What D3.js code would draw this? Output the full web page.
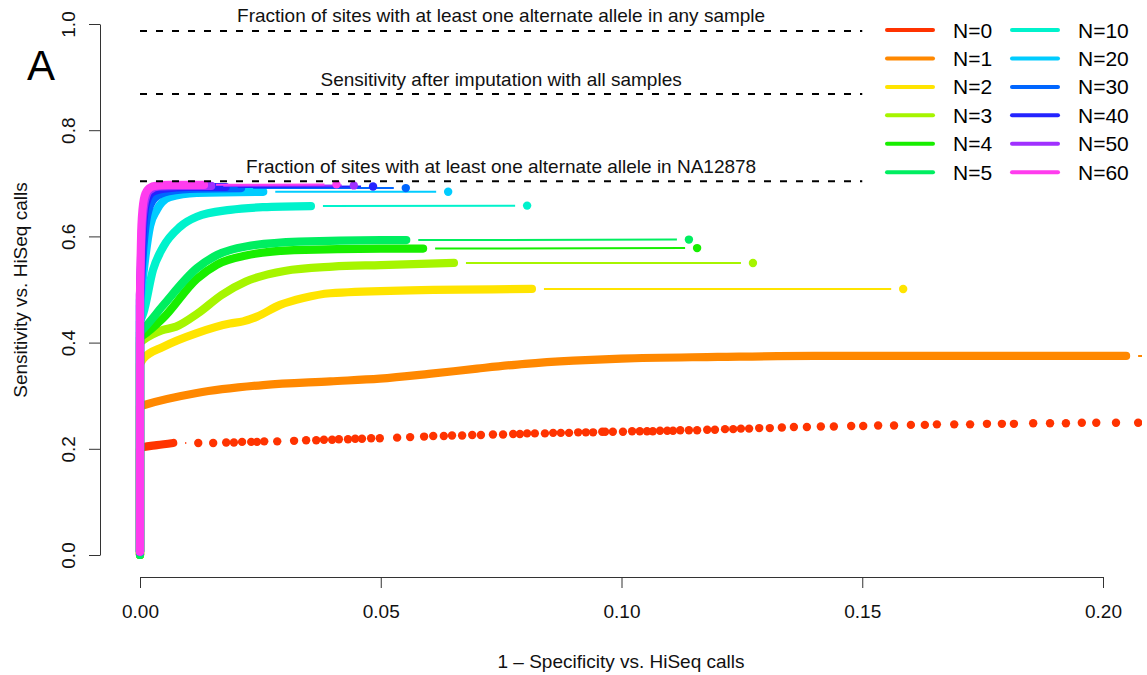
<!DOCTYPE html>
<html>
<head>
<meta charset="utf-8">
<script src="https://cdn.jsdelivr.net/npm/d3@7"></script>
<style>
	body { margin: 0; background: #fff; }
	svg { display: block; font-family: "Liberation Sans", Arial, sans-serif; }
</style>
</head>
<body>
<svg id="chart" width="1147" height="675"></svg>
<script>
// series labels and colours (legend order)
const seriesNames = ["N=0", "N=1", "N=2", "N=3", "N=4", "N=5", "N=10", "N=20", "N=30", "N=40", "N=50", "N=60"];
const seriesColors = ["#FF3300", "#FF8800", "#FFE400", "#A6F500", "#18EE00", "#00EE60", "#00F2CC", "#00CCFF", "#0066FF", "#2424FF", "#A030FF", "#FF3CEE"];

// dense (thick) part of each curve: [1 - specificity, sensitivity]
const denseN0 = [[0, 0], [0, 0.2], [0.0007, 0.203], [0.0035, 0.207], [0.0069, 0.211]];
const denseN1 = [[0, 0], [0, 0.28], [0.0007, 0.282], [0.0118, 0.305], [0.0256, 0.32], [0.0395, 0.327], [0.0498, 0.332], [0.06, 0.341], [0.07, 0.351], [0.08, 0.36], [0.09, 0.366], [0.1, 0.37], [0.12, 0.373], [0.14, 0.375], [0.17, 0.375], [0.2048, 0.375]];
const denseN2 = [[0, 0], [0, 0.36], [0.0007, 0.37], [0.0048, 0.392], [0.0118, 0.418], [0.0187, 0.436], [0.0214, 0.44], [0.0243, 0.449], [0.0291, 0.471], [0.0339, 0.484], [0.0395, 0.493], [0.054, 0.498], [0.0814, 0.501]];
const denseN3 = [[0, 0], [0, 0.4], [0.0007, 0.405], [0.0045, 0.423], [0.0075, 0.43], [0.012, 0.455], [0.017, 0.49], [0.022, 0.515], [0.03, 0.535], [0.04, 0.543], [0.05, 0.546], [0.0652, 0.55]];
const denseN4 = [[0, 0], [0, 0.41], [0.0007, 0.414], [0.0048, 0.446], [0.0118, 0.52], [0.016, 0.547], [0.022, 0.564], [0.032, 0.574], [0.05, 0.577], [0.0588, 0.577]];
const denseN5 = [[0, 0], [0, 0.42], [0.0007, 0.426], [0.0048, 0.47], [0.0118, 0.54], [0.016, 0.565], [0.022, 0.581], [0.033, 0.59], [0.05, 0.593], [0.0553, 0.593]];
const denseN10 = [[0, 0.006], [0, 0.44], [0.0007, 0.456], [0.0027, 0.537], [0.0048, 0.58], [0.0083, 0.618], [0.0118, 0.637], [0.0187, 0.65], [0.0255, 0.655], [0.0355, 0.657]];
const denseN20 = [[0, 0.006], [0, 0.47], [0.0007, 0.53], [0.0021, 0.62], [0.0035, 0.65], [0.0062, 0.674], [0.0118, 0.682], [0.0256, 0.684]];
const denseN30 = [[0, 0.006], [0, 0.48], [0.0007, 0.58], [0.0015, 0.64], [0.003, 0.672], [0.006, 0.685], [0.012, 0.69], [0.021, 0.691]];
const denseN40 = [[0, 0.006], [0, 0.49], [0.0005, 0.6], [0.0012, 0.66], [0.0025, 0.683], [0.005, 0.69], [0.01, 0.693], [0.0178, 0.693]];
const denseN50 = [[0, 0.006], [0, 0.49], [0.0004, 0.61], [0.001, 0.665], [0.002, 0.687], [0.004, 0.694], [0.008, 0.695], [0.0148, 0.695]];
const denseN60 = [[0, 0.006], [0, 0.49], [0.0003, 0.62], [0.0008, 0.67], [0.0016, 0.688], [0.003, 0.695], [0.006, 0.697], [0.0133, 0.697]];

// sparse points after the dense part (drawn as dots joined by gapped lines)
const dotsN0 = [
	[0.0121, 0.211], [0.0152, 0.211], [0.0179, 0.212], [0.0195, 0.212], [0.0212, 0.213], [0.0231, 0.213], [0.0243, 0.213], [0.0258, 0.214],
	[0.0285, 0.214], [0.032, 0.215], [0.0345, 0.216], [0.0366, 0.216], [0.0382, 0.217], [0.0399, 0.217], [0.0413, 0.218], [0.0432, 0.218],
	[0.0447, 0.219], [0.0461, 0.219], [0.048, 0.22], [0.0498, 0.22], [0.0534, 0.221], [0.0561, 0.222], [0.059, 0.223], [0.0609, 0.224],
	[0.0631, 0.224], [0.0648, 0.225], [0.0669, 0.225], [0.069, 0.226], [0.0708, 0.226], [0.0733, 0.227], [0.0754, 0.227], [0.0775, 0.228],
	[0.0789, 0.228], [0.0804, 0.229], [0.082, 0.229], [0.0841, 0.229], [0.0858, 0.23], [0.0874, 0.23], [0.0891, 0.23], [0.091, 0.231],
	[0.0926, 0.231], [0.0941, 0.231], [0.096, 0.232], [0.0966, 0.232], [0.0982, 0.232], [0.1003, 0.232], [0.1022, 0.233], [0.1038, 0.233],
	[0.1053, 0.233], [0.1065, 0.233], [0.108, 0.234], [0.1095, 0.234], [0.1107, 0.234], [0.1122, 0.235], [0.114, 0.235], [0.1157, 0.235],
	[0.1178, 0.236], [0.1194, 0.236], [0.1215, 0.237], [0.1232, 0.237], [0.1248, 0.238], [0.1265, 0.238], [0.1286, 0.239], [0.1308, 0.239],
	[0.1333, 0.24], [0.1358, 0.241], [0.1385, 0.241], [0.1414, 0.242], [0.1441, 0.242], [0.1477, 0.243], [0.1502, 0.243], [0.1533, 0.244],
	[0.1566, 0.244], [0.1601, 0.245], [0.163, 0.245], [0.1655, 0.246], [0.1691, 0.246], [0.1724, 0.246], [0.1759, 0.247], [0.179, 0.247],
	[0.1815, 0.247], [0.1855, 0.248], [0.189, 0.248], [0.1923, 0.248], [0.1956, 0.249], [0.1986, 0.249], [0.2027, 0.249], [0.2073, 0.249]
];
const tailN1 = [[0.25, 0.375]];
const tailN2 = [[0.1585, 0.501]];
const tailN3 = [[0.1273, 0.55]];
const tailN4 = [[0.1157, 0.578]];
const tailN5 = [[0.114, 0.594]];
const tailN10 = [[0.0804, 0.658]];
const tailN20 = [[0.0640, 0.684]];
const tailN30 = [[0.0552, 0.691]];
const tailN40 = [[0.0484, 0.694]];
const tailN50 = [[0.0444, 0.696]];
const tailN60 = [[0.0408, 0.698]];

const denseSets = [denseN0, denseN1, denseN2, denseN3, denseN4, denseN5, denseN10, denseN20, denseN30, denseN40, denseN50, denseN60];
const sparseSets = [dotsN0, tailN1, tailN2, tailN3, tailN4, tailN5, tailN10, tailN20, tailN30, tailN40, tailN50, tailN60];

// reference levels
const refLevels = [0.987, 0.868, 0.704];
const refLabels = [
	"Fraction of sites with at least one alternate allele in any sample",
	"Sensitivity after imputation with all samples",
	"Fraction of sites with at least one alternate allele in NA12878"
];

const xTicks = [0, 0.05, 0.1, 0.15, 0.2];
const yTicks = [0, 0.2, 0.4, 0.6, 0.8, 1.0];

const svg = d3.select("#chart");
const W = 1147, H = 675;
const plot = { left: 100, right: 1142, top: 3, bottom: 577 };

const x = d3.scaleLinear().domain([0, 0.2]).range([140, 1103]);
const y = d3.scaleLinear().domain([0, 1]).range([555, 24]);

svg.append("rect").attr("width", W).attr("height", H).attr("fill", "#fff");

svg.append("clipPath").attr("id", "plot-clip")
	.append("rect")
	.attr("x", plot.left).attr("y", plot.top)
	.attr("width", plot.right - plot.left).attr("height", plot.bottom - plot.top);

const plotG = svg.append("g").attr("clip-path", "url(#plot-clip)");

const thickLine = d3.line().x((d) => x(d[0])).y((d) => y(d[1])).curve(d3.curveMonotoneX);
const GAP = 12;
const LINE_W = 8.2;
const DOT_R = 4.2;

function gappedSegments(pts) {
	const segs = [];
	for (let i = 0; i < pts.length - 1; i++) {
		const x1 = x(pts[i][0]), y1 = y(pts[i][1]);
		const x2 = x(pts[i + 1][0]), y2 = y(pts[i + 1][1]);
		const d = Math.hypot(x2 - x1, y2 - y1);
		if (d <= 2 * GAP) continue;
		const ux = (x2 - x1) / d, uy = (y2 - y1) / d;
		segs.push([x1 + ux * GAP, y1 + uy * GAP, x2 - ux * GAP, y2 - uy * GAP]);
	}
	return segs;
}

denseSets.forEach((dense, i) => {
	const color = seriesColors[i];
	const g = plotG.append("g").attr("class", "series");

	// vertical rise along x = 0, then the smooth curve
	const first = dense[0];
	const rest = dense.slice(1);
	const curveStr = thickLine(rest);
	const path = `M${x(first[0])},${y(first[1])}L${curveStr.slice(1)}`;

	g.append("path")
		.attr("d", path)
		.attr("fill", "none")
		.attr("stroke", color)
		.attr("stroke-width", LINE_W)
		.attr("stroke-linecap", "round")
		.attr("stroke-linejoin", "round");

	const sparse = [dense[dense.length - 1]].concat(sparseSets[i]);

	g.selectAll("line")
		.data(gappedSegments(sparse))
		.join("line")
		.attr("x1", (d) => d[0]).attr("y1", (d) => d[1])
		.attr("x2", (d) => d[2]).attr("y2", (d) => d[3])
		.attr("stroke", color)
		.attr("stroke-width", 2);

	g.selectAll("circle")
		.data(sparseSets[i])
		.join("circle")
		.attr("cx", (d) => x(d[0]))
		.attr("cy", (d) => y(d[1]))
		.attr("r", DOT_R)
		.attr("fill", color);
});

// reference lines and their labels
const refG = svg.append("g");
refLevels.forEach((lv, i) => {
	refG.append("line")
		.attr("x1", x(0)).attr("x2", x(0.15))
		.attr("y1", y(lv)).attr("y2", y(lv))
		.attr("stroke", "#000")
		.attr("stroke-width", 2)
		.attr("stroke-dasharray", "7,9");
	refG.append("text")
		.attr("x", x(0.075))
		.attr("y", y(lv) - 15)
		.attr("text-anchor", "middle")
		.attr("dominant-baseline", "central")
		.attr("font-size", 19)
		.attr("fill", "#111")
		.text(refLabels[i]);
});

// axes
const xAxis = svg.append("g")
	.attr("transform", `translate(0,${plot.bottom})`)
	.call(d3.axisBottom(x).tickValues(xTicks).tickFormat(d3.format(".2f")).tickSize(11).tickSizeOuter(0).tickPadding(17));
xAxis.selectAll("text").attr("font-size", 19).attr("fill", "#111").attr("font-family", "Liberation Sans, Arial, sans-serif");
xAxis.selectAll("line, path").attr("stroke", "#333");

const yAxis = svg.append("g")
	.attr("transform", `translate(${plot.left},0)`)
	.call(d3.axisLeft(y).tickValues(yTicks).tickFormat(d3.format(".1f")).tickSize(11).tickSizeOuter(0));
yAxis.selectAll("text")
	.attr("transform", "rotate(-90)")
	.attr("x", 0)
	.attr("y", -32)
	.attr("dy", "0.35em")
	.attr("text-anchor", "middle")
	.attr("font-size", 19)
	.attr("fill", "#111")
	.attr("font-family", "Liberation Sans, Arial, sans-serif");
yAxis.selectAll("line, path").attr("stroke", "#333");

svg.append("text")
	.attr("x", (plot.left + plot.right) / 2)
	.attr("y", 661)
	.attr("text-anchor", "middle")
	.attr("dominant-baseline", "central")
	.attr("font-size", 19)
	.attr("fill", "#111")
	.text("1 \u2013 Specificity vs. HiSeq calls");

svg.append("text")
	.attr("transform", `translate(20,${(plot.top + plot.bottom) / 2}) rotate(-90)`)
	.attr("text-anchor", "middle")
	.attr("dominant-baseline", "central")
	.attr("font-size", 19)
	.attr("fill", "#111")
	.text("Sensitivity vs. HiSeq calls");

svg.append("text")
	.attr("x", 41)
	.attr("y", 80)
	.attr("text-anchor", "middle")
	.attr("font-size", 42)
	.attr("fill", "#000")
	.text("A");

// legend, two columns of six
const legend = svg.append("g");
const legendRowY = (r) => 30 + r * 28.45;
seriesNames.forEach((name, i) => {
	const col = Math.floor(i / 6), row = i % 6;
	const lx = col === 0 ? 887 : 1012;
	legend.append("line")
		.attr("x1", lx).attr("x2", lx + 46)
		.attr("y1", legendRowY(row)).attr("y2", legendRowY(row))
		.attr("stroke", seriesColors[i])
		.attr("stroke-width", 4)
		.attr("stroke-linecap", "round");
	legend.append("text")
		.attr("x", lx + 66)
		.attr("y", legendRowY(row))
		.attr("dominant-baseline", "central")
		.attr("font-size", 21)
		.attr("fill", "#000")
		.text(name);
});
</script>
</body>
</html>
